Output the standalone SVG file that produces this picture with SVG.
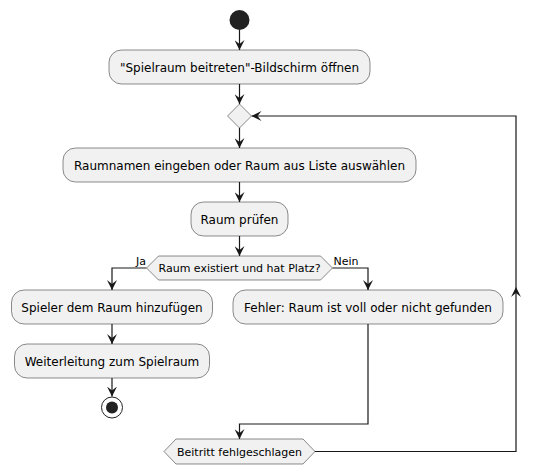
<svg xmlns="http://www.w3.org/2000/svg" width="540" height="474" viewBox="0 0 540 474">
<style>
.box{fill:#F1F1F1;stroke:#181818;stroke-width:0.5}
.t{font-family:"DejaVu Sans","Liberation Sans",sans-serif;font-size:12px;fill:#000;text-anchor:middle}
.ts{font-family:"DejaVu Sans","Liberation Sans",sans-serif;font-size:11px;fill:#000}
.c{fill:none;stroke:#181818;stroke-width:1.2}
</style>
<defs>
<marker id="ah" viewBox="0 0 10 10" refX="10" refY="5" markerWidth="10" markerHeight="10" markerUnits="userSpaceOnUse" orient="auto">
<path d="M0,0 L10,5 L0,10 L4,5 Z" fill="#181818"/>
</marker>
</defs>
<rect width="540" height="474" fill="#FFFFFF"/>
<g id="connectors">
<path class="c" marker-end="url(#ah)" d="M239.5,30 L239.5,50"/>
<path class="c" marker-end="url(#ah)" d="M239.5,84 L239.5,104"/>
<path class="c" marker-end="url(#ah)" d="M239.5,128 L239.5,148"/>
<path class="c" marker-end="url(#ah)" d="M239.5,182 L239.5,202"/>
<path class="c" marker-end="url(#ah)" d="M239.5,236 L239.5,256"/>
<path class="c" marker-end="url(#ah)" d="M146.5,268 L112,268 L112,290"/>
<path class="c" marker-end="url(#ah)" d="M332.5,268 L368,268 L368,290"/>
<path class="c" marker-end="url(#ah)" d="M112,324 L112,344"/>
<path class="c" marker-end="url(#ah)" d="M112,378 L112,396.5"/>
<path class="c" marker-end="url(#ah)" d="M368,324 L368,424 L239.5,424 L239.5,439"/>
<path class="c" marker-end="url(#ah)" d="M314,451.5 L516,451.5 L516,116 L251.5,116"/>
<polygon points="511,297 516,287 521,297 516,293" fill="#181818"/>
<text class="ts" x="146" y="265" text-anchor="end">Ja</text>
<text class="ts" x="333.5" y="265">Nein</text>
</g>
<g id="start"><circle cx="239.5" cy="20" r="10" fill="#222222"/></g>
<g id="open"><rect class="box" x="109" y="50" width="261" height="34" rx="12.5"/><text class="t" x="239.5" y="71.5">"Spielraum beitreten"-Bildschirm öffnen</text></g>
<g id="merge"><polygon class="box" points="239.5,104 251.5,116 239.5,128 227.5,116"/></g>
<g id="input"><rect class="box" x="63" y="148" width="353" height="34" rx="12.5"/><text class="t" x="239.5" y="169.5">Raumnamen eingeben oder Raum aus Liste auswählen</text></g>
<g id="check"><rect class="box" x="191" y="202" width="97" height="34" rx="12.5"/><text class="t" x="239.5" y="223.5">Raum prüfen</text></g>
<g id="decision"><polygon class="box" points="146.5,268 158.5,256 320.5,256 332.5,268 320.5,280 158.5,280"/><text class="ts" x="239.5" y="272" text-anchor="middle">Raum existiert und hat Platz?</text></g>
<g id="add"><rect class="box" x="11.5" y="290" width="201" height="34" rx="12.5"/><text class="t" x="112" y="311.5">Spieler dem Raum hinzufügen</text></g>
<g id="redirect"><rect class="box" x="14.5" y="344" width="195" height="34" rx="12.5"/><text class="t" x="112" y="365.5">Weiterleitung zum Spielraum</text></g>
<g id="end"><circle cx="112" cy="407.5" r="10.5" fill="none" stroke="#222222" stroke-width="1"/><circle cx="112" cy="407.5" r="6" fill="#222222"/></g>
<g id="error"><rect class="box" x="233" y="290" width="270" height="34" rx="12.5"/><text class="t" x="368" y="311.5">Fehler: Raum ist voll oder nicht gefunden</text></g>
<g id="failed"><polygon class="box" points="164,451.5 176,439 303,439 315,451.5 303,464 176,464"/><text class="ts" x="239.5" y="455.5" text-anchor="middle">Beitritt fehlgeschlagen</text></g>
</svg>
